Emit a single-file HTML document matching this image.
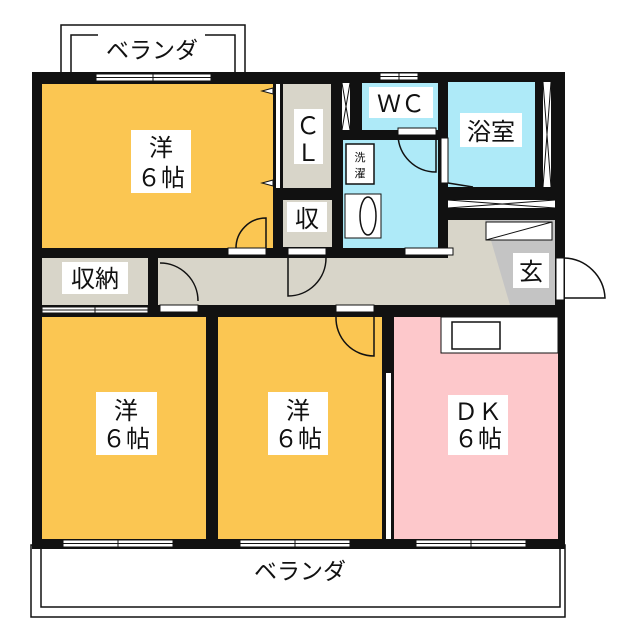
<!DOCTYPE html>
<html><head><meta charset="utf-8"><style>
html,body{margin:0;padding:0;background:#fff;}
svg{display:block;}
text{font-family:"Liberation Sans","Noto Sans CJK JP",sans-serif;fill:#111;}
</style></head><body>
<svg width="640" height="640" viewBox="0 0 640 640">
<!-- top balcony -->
<rect x="61" y="25" width="184" height="50" fill="#fff" stroke="#111" stroke-width="1.5"/>
<polyline points="98,35 71,35 71,72" fill="none" stroke="#111" stroke-width="1.5"/>
<polyline points="205,35 235,35 235,72" fill="none" stroke="#111" stroke-width="1.5"/>
<text x="152" y="58" font-size="23" text-anchor="middle">ベランダ</text>
<!-- bottom balcony -->
<rect x="31" y="545" width="534" height="72" fill="#fff" stroke="#111" stroke-width="1.5"/>
<rect x="41" y="545" width="519" height="62" fill="#fff" stroke="#111" stroke-width="1.5"/>
<text x="300" y="579" font-size="23" text-anchor="middle">ベランダ</text>
<!-- building base -->
<rect x="32" y="72" width="533" height="477" fill="#111"/>
<!-- rooms -->
<rect x="42" y="84" width="231" height="164" fill="#fbc652"/>
<rect x="276" y="84" width="4" height="104" fill="#fff"/>
<rect x="283" y="84" width="48" height="104" fill="#d8d5c9"/>
<rect x="283" y="200" width="49" height="47" fill="#d8d5c9"/>
<rect x="42" y="258" width="106" height="47" fill="#d8d5c9"/>
<rect x="158" y="258" width="397" height="47" fill="#d8d5c9"/>
<rect x="448" y="220" width="107" height="85" fill="#d8d5c9"/>
<polygon points="485,220 555,220 555,305 510,305" fill="#c4c4c4"/>
<rect x="486" y="222" width="66" height="18" fill="#fff" stroke="#111" stroke-width="1"/>
<line x1="486" y1="240" x2="552" y2="222" stroke="#111" stroke-width="1"/>
<rect x="343" y="140" width="95" height="108" fill="#aeeaf8"/>
<rect x="362" y="83" width="76" height="47" fill="#aeeaf8"/>
<rect x="448" y="82" width="87" height="105" fill="#aeeaf8"/>
<rect x="342" y="83" width="8" height="47" fill="#fff"/>
<path d="M342,83 L350,130 M350,83 L342,130" stroke="#111" stroke-width="1"/>
<rect x="543" y="82" width="8" height="105" fill="#fff"/>
<path d="M543,82 L551,187 M551,82 L543,187" stroke="#111" stroke-width="1"/>
<rect x="448" y="200" width="107" height="8" fill="#fff"/>
<path d="M448,200 L555,208 M448,208 L555,200" stroke="#111" stroke-width="1"/>
<rect x="42" y="317" width="164" height="222" fill="#fbc652"/>
<rect x="218" y="317" width="164" height="222" fill="#fbc652"/>
<rect x="394" y="317" width="164" height="222" fill="#fdc8cb"/>
<rect x="386" y="373" width="5" height="166" fill="#fff"/>
<rect x="441" y="317" width="117" height="36" fill="#fff" stroke="#111" stroke-width="1"/>
<rect x="452" y="322" width="48" height="27" fill="#fff" stroke="#111" stroke-width="1.5"/>
<!-- washer / sink -->
<rect x="346" y="144" width="28" height="40" fill="#fff" stroke="#111" stroke-width="1.5"/>
<text x="360" y="161" font-size="11" text-anchor="middle">洗</text>
<text x="360" y="177" font-size="11" text-anchor="middle">濯</text>
<rect x="345" y="194" width="36" height="44" fill="#fff" stroke="#111" stroke-width="1"/>
<ellipse cx="368" cy="216" rx="8" ry="19" fill="#fff" stroke="#111" stroke-width="1.5"/>
<!-- windows -->
<g fill="#fff" stroke="#111" stroke-width="1">
<rect x="96" y="74" width="115" height="7"/>
<rect x="380" y="73" width="38" height="7"/>
<rect x="42" y="307" width="106" height="6"/>
<rect x="63" y="540" width="110" height="7"/>
<rect x="240" y="540" width="110" height="7"/>
<rect x="416" y="540" width="110" height="7"/>
<rect x="556" y="258" width="8" height="42"/>
<rect x="228" y="248" width="38" height="7"/>
<rect x="288" y="248" width="38" height="7"/>
<rect x="160" y="305" width="38" height="7"/>
<rect x="336" y="305" width="38" height="7"/>
<rect x="398" y="128" width="38" height="7"/>
<rect x="405" y="248" width="48" height="7"/>
<rect x="441" y="138" width="7" height="45"/>
</g>
<g stroke="#111" stroke-width="1">
<line x1="96" y1="77.5" x2="211" y2="77.5"/><line x1="153" y1="74" x2="153" y2="81"/>
<line x1="380" y1="76.5" x2="418" y2="76.5"/><line x1="399" y1="73" x2="399" y2="80"/>
<line x1="42" y1="310" x2="148" y2="310"/><line x1="95" y1="307" x2="95" y2="313"/>
<line x1="63" y1="543.5" x2="173" y2="543.5"/><line x1="118" y1="540" x2="118" y2="547"/>
<line x1="240" y1="543.5" x2="350" y2="543.5"/><line x1="295" y1="540" x2="295" y2="547"/>
<line x1="416" y1="543.5" x2="526" y2="543.5"/><line x1="471" y1="540" x2="471" y2="547"/>
</g>
<!-- doors -->
<g fill="none" stroke="#111" stroke-width="1.5">
<path d="M266,248 L266,218 A30,30 0 0 0 236,248"/>
<path d="M288,258 L288,296 A38,38 0 0 0 326,258"/>
<path d="M160,263 A38,38 0 0 1 198,301"/>
<path d="M374,317 L374,356 A38,38 0 0 1 336,317"/>
<path d="M398,135 A38,38 0 0 0 436,172 L436,135"/>
<path d="M564,258 A42,42 0 0 1 605,298 L564,298"/>
<path d="M448,183 L473,187"/>
</g>
<polygon points="273,88 262,91 273,94" fill="#fff" stroke="#111" stroke-width="1"/>
<polygon points="273,180 262,183 273,186" fill="#fff" stroke="#111" stroke-width="1"/>
<!-- labels -->
<g fill="#fff">
<rect x="131" y="130" width="60" height="63"/>
<rect x="294" y="109" width="29" height="55"/>
<rect x="287" y="202" width="40" height="30"/>
<rect x="62" y="262" width="66" height="32"/>
<rect x="369" y="87" width="64" height="31"/>
<rect x="460" y="113" width="62" height="34"/>
<rect x="513" y="253" width="36" height="35"/>
<rect x="96" y="392" width="61" height="63"/>
<rect x="268" y="392" width="60" height="63"/>
<rect x="448" y="395" width="60" height="60"/>
</g>
<g font-size="24" text-anchor="middle">
<text x="161" y="156">洋</text><text x="161" y="186">６帖</text>
<text x="308" y="134">Ｃ</text><text x="308" y="161">Ｌ</text>
<text x="307" y="227">収</text>
<text x="95" y="287">収納</text>
<text x="401" y="112">ＷＣ</text>
<text x="491" y="140">浴室</text>
<text x="531" y="280">玄</text>
<text x="126" y="419">洋</text><text x="126" y="447">６帖</text>
<text x="298" y="419">洋</text><text x="298" y="447">６帖</text>
<text x="478" y="420">ＤＫ</text><text x="478" y="447">６帖</text>
</g>
</svg>
</body></html>
